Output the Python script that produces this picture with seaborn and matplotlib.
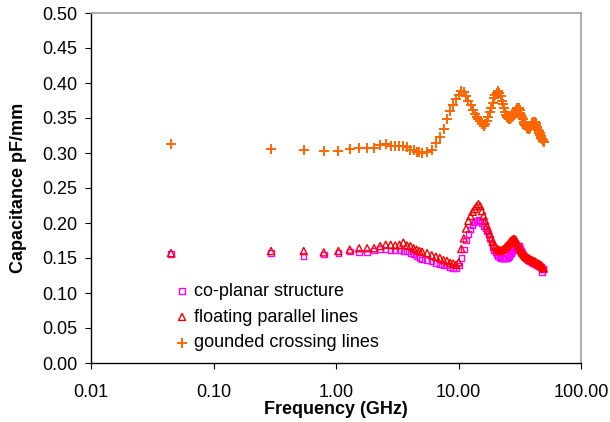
import matplotlib
matplotlib.use("Agg")
import matplotlib.pyplot as plt
import matplotlib.ticker as mticker
import seaborn as sns
import pandas as pd

# ---------------- data (frequency sweep in GHz, capacitance in pF/mm) ----------------
freq_low = [0.045, 0.295, 0.545, 0.795, 1.045, 1.295, 1.545, 1.795, 2.045, 2.295,
            2.545, 2.795, 3.045, 3.295, 3.545, 3.795, 4.045, 4.295, 4.545, 4.795, 5.045]
freq_high = [5.545, 6.045, 6.545, 7.045, 7.545, 8.045, 8.545, 9.045, 9.545, 10.045,
             10.545, 11.045, 11.545, 12.045, 12.545, 13.045, 13.545, 14.045, 14.545, 15.045,
             15.545, 16.045, 16.545, 17.045, 17.545, 18.045, 18.545, 19.045, 19.545, 20.045,
             20.545, 21.045, 21.545, 22.045, 22.545, 23.045, 23.545, 24.045, 24.545, 25.045,
             25.545, 26.045, 26.545, 27.045, 27.545, 28.045, 28.545, 29.045, 29.545, 30.045,
             30.545, 31.045, 31.545, 32.045, 32.545, 33.045, 33.545, 34.045, 34.545, 35.045,
             35.545, 36.045, 36.545, 37.045, 37.545, 38.045, 38.545, 39.045, 39.545, 40.045,
             40.545, 41.045, 41.545, 42.045, 42.545, 43.045, 43.545, 44.045, 44.545, 45.045,
             45.545, 46.045, 46.545, 47.045, 47.545, 48.045, 48.545, 49.045, 49.545]
frequency = freq_low + freq_high

coplanar = [0.156, 0.157, 0.153, 0.155, 0.157, 0.159, 0.158, 0.158, 0.161, 0.163,
            0.162, 0.161, 0.161, 0.161, 0.160, 0.159, 0.157, 0.155, 0.152, 0.150, 0.148,
            0.147, 0.145, 0.143, 0.141, 0.140, 0.139, 0.137, 0.136, 0.135, 0.139,
            0.150, 0.162, 0.175, 0.184, 0.191, 0.197, 0.201, 0.203, 0.204, 0.203,
            0.200, 0.196, 0.192, 0.188, 0.184, 0.178, 0.172, 0.166, 0.161, 0.158,
            0.155, 0.153, 0.151, 0.150, 0.149, 0.149, 0.149, 0.149, 0.150, 0.150,
            0.151, 0.153, 0.155, 0.157, 0.160, 0.162, 0.164, 0.166, 0.167, 0.168,
            0.168, 0.167, 0.165, 0.163, 0.160, 0.157, 0.155, 0.153, 0.152, 0.151,
            0.150, 0.149, 0.148, 0.147, 0.147, 0.146, 0.145, 0.145, 0.144, 0.144,
            0.143, 0.143, 0.142, 0.142, 0.141, 0.141, 0.140, 0.140, 0.139, 0.139,
            0.138, 0.138, 0.137, 0.137, 0.136, 0.130, 0.135, 0.134, 0.134]

floating = [0.157, 0.160, 0.160, 0.158, 0.160, 0.162, 0.164, 0.164, 0.164, 0.167,
            0.169, 0.169, 0.168, 0.169, 0.172, 0.168, 0.167, 0.164, 0.162, 0.160, 0.159,
            0.157, 0.154, 0.152, 0.150, 0.147, 0.146, 0.143, 0.142, 0.140, 0.144,
            0.163, 0.178, 0.192, 0.203, 0.210, 0.216, 0.220, 0.224, 0.227, 0.224,
            0.217, 0.210, 0.203, 0.196, 0.190, 0.184, 0.178, 0.173, 0.169, 0.166,
            0.163, 0.162, 0.161, 0.160, 0.161, 0.162, 0.163, 0.165, 0.167, 0.168,
            0.170, 0.172, 0.174, 0.175, 0.176, 0.177, 0.177, 0.176, 0.175, 0.172,
            0.170, 0.167, 0.165, 0.162, 0.160, 0.158, 0.157, 0.155, 0.154, 0.153,
            0.152, 0.151, 0.150, 0.150, 0.149, 0.148, 0.148, 0.147, 0.147, 0.146,
            0.146, 0.145, 0.145, 0.145, 0.144, 0.143, 0.143, 0.142, 0.142, 0.141,
            0.141, 0.140, 0.140, 0.140, 0.139, 0.138, 0.137, 0.136, 0.135]

grounded = [0.313, 0.306, 0.304, 0.303, 0.303, 0.306, 0.307, 0.307, 0.307, 0.311,
            0.313, 0.310, 0.310, 0.310, 0.310, 0.308, 0.305, 0.304, 0.302, 0.301, 0.300,
            0.301, 0.305, 0.314, 0.323, 0.335, 0.348, 0.360, 0.369, 0.377, 0.383,
            0.388, 0.387, 0.382, 0.375, 0.368, 0.362, 0.356, 0.352, 0.349, 0.346,
            0.342, 0.339, 0.341, 0.346, 0.352, 0.358, 0.365, 0.372, 0.378, 0.383,
            0.386, 0.388, 0.386, 0.381, 0.375, 0.370, 0.364, 0.359, 0.355, 0.352,
            0.350, 0.349, 0.349, 0.350, 0.351, 0.353, 0.356, 0.359, 0.362, 0.364,
            0.365, 0.364, 0.361, 0.357, 0.354, 0.351, 0.348, 0.345, 0.342, 0.340,
            0.338, 0.337, 0.336, 0.335, 0.335, 0.336, 0.337, 0.339, 0.341, 0.343,
            0.344, 0.345, 0.345, 0.345, 0.343, 0.340, 0.337, 0.335, 0.333, 0.331,
            0.329, 0.328, 0.326, 0.324, 0.322, 0.320, 0.318, 0.317, 0.316]

series_names = ["co-planar structure", "floating parallel lines", "gounded crossing lines"]
x_ticks = [0.01, 0.1, 1, 10, 100]
x_tick_labels = ["0.01", "0.10", "1.00", "10.00", "100.00"]

# ---------------- styling ----------------
sns.set_theme(style="white")
plt.rcParams["font.family"] = ["Liberation Sans", "DejaVu Sans"]
FS = 13

df = pd.DataFrame({"freq": frequency, "cop": coplanar, "flt": floating, "gnd": grounded})

fig = plt.figure(figsize=(6.10, 4.22), dpi=100)
ax = fig.add_axes([91 / 610, 1 - 363 / 422, 490 / 610, 350 / 422])

sns.scatterplot(data=df, x="freq", y="cop", ax=ax, marker="s", s=16,
                color="#FF00FF", facecolor="none", edgecolor="#FF00FF",
                linewidth=1.0, label=series_names[0], zorder=3)
sns.scatterplot(data=df, x="freq", y="flt", ax=ax, marker="^", s=26,
                color="#FF0000", facecolor="none", edgecolor="#FF0000",
                linewidth=1.0, label=series_names[1], zorder=4)
sns.scatterplot(data=df, x="freq", y="gnd", ax=ax, marker="+", s=48,
                color="#FF6600", linewidth=1.4, label=series_names[2], zorder=5)

ax.set_xscale("log")
ax.set_xlim(0.01, 100)
ax.set_ylim(0, 0.5)
ax.xaxis.set_major_locator(mticker.FixedLocator(x_ticks))
ax.xaxis.set_major_formatter(mticker.FixedFormatter(x_tick_labels))
ax.xaxis.set_minor_locator(mticker.NullLocator())
ax.yaxis.set_major_locator(mticker.MultipleLocator(0.05))
ax.yaxis.set_major_formatter(mticker.FormatStrFormatter("%.2f"))

ax.tick_params(axis="both", which="major", direction="out", length=4, width=0.8,
               color="black", labelsize=FS, labelcolor="black",
               bottom=True, left=True)
ax.tick_params(axis="y", pad=6)
ax.tick_params(axis="x", pad=11)

for side in ["left", "bottom"]:
    ax.spines[side].set_color("black")
    ax.spines[side].set_linewidth(1.0)
for side in ["top", "right"]:
    ax.spines[side].set_color("#A0A0A0")
    ax.spines[side].set_linewidth(1.2)

ax.set_xlabel("Frequency (GHz)", fontsize=FS, fontweight="bold", color="black", labelpad=0)
ax.set_ylabel("Capacitance pF/mm", fontsize=FS, fontweight="bold", color="black", labelpad=11)

leg = ax.legend(loc="center left", bbox_to_anchor=(0.16, 0.131), frameon=False,
                fontsize=FS, handlelength=0.6, handletextpad=0.35, labelspacing=0.48,
                borderpad=0.4, borderaxespad=0)
for t in leg.get_texts():
    t.set_color("black")

fig.savefig("out.png", dpi=100, facecolor="white")
